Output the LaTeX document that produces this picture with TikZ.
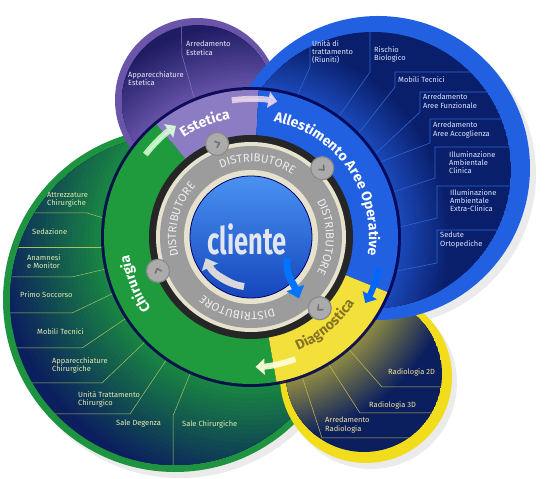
\documentclass[tikz,border=0pt]{standalone}
\usepackage{fontspec}
\setmainfont{Fira Sans}
\usepackage{tikz}
\usetikzlibrary{calc,positioning,arrows.meta,decorations.text}

\definecolor{navy}{HTML}{0B1F5E}
\definecolor{bandgreen}{HTML}{1F9A3C}
\definecolor{bandpurple}{HTML}{8C7CC4}
\definecolor{bandblue}{HTML}{2160E0}
\definecolor{bandyellow}{HTML}{F4E03A}
\definecolor{rimgreen}{HTML}{1E9440}
\definecolor{rimpurple}{HTML}{6A55A8}
\definecolor{rimblue}{HTML}{2260E2}
\definecolor{rimyellow}{HTML}{F2DD1C}
\definecolor{glowgreen}{HTML}{1A8E40}
\definecolor{glowpurple}{HTML}{6A56AC}
\definecolor{navypurple}{HTML}{1E1C62}
\definecolor{glowblue}{HTML}{1C4CC0}
\definecolor{navyblue}{HTML}{0A1F6B}
\definecolor{glowyellow}{HTML}{9A9440}
\definecolor{ringgray}{HTML}{9C9C9C}
\definecolor{ringcream}{HTML}{E6E2CE}
\definecolor{olive}{HTML}{857428}
\definecolor{gtext}{HTML}{E6ECB0}
\definecolor{btext}{HTML}{DCE6FF}
\definecolor{ptext}{HTML}{ECE8FA}
\definecolor{ytext}{HTML}{F2E49A}
\definecolor{gline}{HTML}{A8C060}
\definecolor{bline}{HTML}{2E64D0}
\definecolor{pline}{HTML}{8878C0}
\definecolor{yline}{HTML}{C8B850}
\definecolor{knobgray}{HTML}{ABABAB}
\definecolor{knobedge}{HTML}{8A8A8A}
\definecolor{disttext}{HTML}{EDEDED}
\definecolor{disktop}{HTML}{4A92F2}
\definecolor{diskbottom}{HTML}{1546BC}
\definecolor{clientetext}{HTML}{E2E6EE}

\newcommand{\bandfont}{\fontsize{14}{14}\selectfont\bfseries}
\newcommand{\distfont}{\fontsize{11.5}{12}\selectfont}
% glow from the ring outwards: light colour, dark colour, radius where it is dark
\newcommand{\glowfill}[3]{%
  \foreach \k in {0,...,24} {
    \pgfmathsetmacro\r{#3-(#3-148)*\k/24}
    \pgfmathtruncatemacro\p{4*\k}
    \fill[#1!\p!#2] (c) circle (\r pt);
  }}

\begin{document}
\begin{tikzpicture}[x=1pt,y=1pt]
\tikzstyle{lbl}=[inner sep=0pt, anchor=north west, align=left, font=\fontsize{7.5}{8.3}\selectfont]
\tikzstyle{glbl}=[lbl, text=gtext]
\tikzstyle{blbl}=[lbl, text=btext]
\tikzstyle{plbl}=[lbl, text=ptext]
\tikzstyle{ylbl}=[lbl, text=ytext]
\tikzstyle{gdiv}=[draw=gline, line width=0.5pt]
\tikzstyle{bdiv}=[draw=bline, line width=0.6pt]
\tikzstyle{pdiv}=[draw=pline, line width=0.5pt]
\tikzstyle{ydiv}=[draw=yline, line width=0.5pt]
\tikzstyle{dropfill}=[fill=black, opacity=0.08]
\tikzstyle{bandarrow}=[line width=6pt, -{Triangle[width=16pt,length=9pt]}]
\tikzstyle{knob}=[circle, fill=knobgray, draw=knobedge, line width=1.2pt, minimum size=23pt, inner sep=0pt]
\tikzstyle{knobmark}=[draw=black!55, line width=1.6pt, line cap=round, line join=round]
\tikzstyle{alongarc}=[decorate, decoration={text along path, text align=center}]

\useasboundingbox (0,0) rectangle (550,479);
\coordinate (c) at (251,242);
\coordinate (gc) at (175,179);
\coordinate (pc) at (197,379);
\coordinate (yc) at (366,102);
\coordinate (bc) at (378,311);

\fill[dropfill] ($(gc)+(5,-6)$) circle (172pt);
\fill[dropfill] ($(pc)+(4,-5)$) circle (82pt);
\fill[dropfill] ($(yc)+(5,-6)$) circle (86pt);
\fill[dropfill] ($(bc)+(6,-6)$) circle (152pt);

% chirurgia
\fill[rimgreen] (gc) circle (172pt);
\begin{scope}
\clip (gc) circle (165pt);
\fill[navy] (gc) circle (165pt);
\glowfill{glowgreen}{navy}{255}
\draw[gdiv] (0,266) -- (87,266) -- (110,259);
\draw[gdiv] (0,232) -- (113,232);
\draw[gdiv] (0,202) -- (72,202) -- (110,211);
\draw[gdiv] (0,166) -- (72,166) -- (118,188);
\draw[gdiv] (0,131) -- (82,131) -- (131,164);
\draw[gdiv] (0,96) -- (102,96) -- (149,141);
\draw[gdiv] (0,65) -- (130,65) -- (169,123);
\draw[gdiv] (173,0) -- (173,63) -- (192,110);
\end{scope}
\node[glbl] (g1) at (47,287) {Attrezzature\\Chirurgiche};
\node[glbl] (g2) at (32,251) {Sedazione};
\node[glbl] (g3) at (27,225) {Anamnesi\\e Monitor};
\node[glbl] (g4) at (20,188) {Primo Soccorso};
\node[glbl] (g5) at (37,151) {Mobili Tecnici};
\node[glbl] (g6) at (52,122) {Apparecchiature\\Chirurgiche};
\node[glbl] (g7) at (78,88) {Unità Trattamento\\Chirurgico};
\node[glbl] (g8) at (116,59) {Sale Degenza};
\node[glbl] (g9) at (182,59) {Sale Chirurgiche};

% estetica
\fill[rimpurple] (pc) circle (82pt);
\begin{scope}
\clip (198,378) circle (76pt);
\fill[navypurple] (198,378) circle (76pt);
\glowfill{glowpurple}{navypurple}{215}
\draw[pdiv] (181,470) -- (182,424) -- (197,371);
\end{scope}
\node[plbl] (p1) at (186,438) {Arredamento\\Estetica};
\node[plbl] (p2) at (128,408) {Apparecchiature\\Estetica};

% diagnostica
\fill[rimyellow] (yc) circle (86pt);
\begin{scope}
\clip (364,105) circle (78pt);
\fill[navy] (364,105) circle (78pt);
\glowfill{glowyellow}{navy}{210}
\draw[ydiv] (345,134) -- (382,92) -- (470,92);
\draw[ydiv] (322,125) -- (360,66) -- (470,66);
\draw[ydiv] (298,115) -- (322,41) -- (470,41);
\end{scope}
\node[ylbl] (y1) at (388,111) {Radiologia 2D};
\node[ylbl] (y2) at (369,78) {Radiologia 3D};
\node[ylbl] (y3) at (325,62) {Arredamento\\Radiologia};

% allestimento
\fill[rimblue] (bc) circle (152pt);
\begin{scope}
\clip (373,309) circle (138pt);
\fill[navyblue] (373,309) circle (138pt);
\glowfill{glowblue}{navyblue}{200}
\draw[bdiv] (310,470) -- (310,412) -- (293,374);
\draw[bdiv] (370,470) -- (370,407) -- (335,357);
\draw[bdiv] (520,407) -- (395,407) -- (395,392) -- (355,341);
\draw[bdiv] (520,387) -- (420,387) -- (420,367) -- (372,322);
\draw[bdiv] (520,360) -- (430,360) -- (430,336) -- (375,315);
\draw[bdiv] (520,332) -- (435,332) -- (435,301) -- (390,286);
\draw[bdiv] (520,293) -- (437,293) -- (437,261) -- (392,250);
\draw[bdiv] (520,249) -- (437,249) -- (437,216) -- (392,207);
\end{scope}
\node[blbl] (b1) at (312,439) {Unità di\\trattamento\\(Riuniti)};
\node[blbl] (b2) at (374,433) {Rischio\\Biologico};
\node[blbl] (b3) at (398,403) {Mobili Tecnici};
\node[blbl] (b4) at (423,385) {Arredamento\\Aree Funzionale};
\node[blbl] (b5) at (433,357) {Arredamento\\Aree Accoglienza};
\node[blbl] (b6) at (449,328) {Illuminazione\\Ambientale\\Clinica};
\node[blbl] (b7) at (450,290) {Illuminazione\\Ambientale\\Extra-Clinica};
\node[blbl] (b8) at (440,247) {Sedute\\Ortopediche};

\begin{scope}[shift={(c)}]
\fill[black!70!blue, opacity=0.85] (0,0) circle (150pt);
\fill[bandgreen] (0,0) -- (130:147pt) arc[start angle=130, end angle=280, radius=147pt] -- cycle;
\fill[bandpurple] (0,0) -- (87:147pt) arc[start angle=87, end angle=130, radius=147pt] -- cycle;
\fill[bandblue] (0,0) -- (-22:147pt) arc[start angle=-22, end angle=87, radius=147pt] -- cycle;
\fill[bandyellow] (0,0) -- (-80:147pt) arc[start angle=-80, end angle=-22, radius=147pt] -- cycle;

\draw[bandarrow, draw=green!15!white, fill=green!15!white, opacity=0.85] (142:134pt) arc[start angle=142, end angle=124, radius=134pt];
\draw[bandarrow, draw=violet!15!white, fill=violet!15!white, opacity=0.85] (98:138pt) arc[start angle=98, end angle=79, radius=138pt];
\draw[bandarrow, draw=blue!60!cyan, fill=blue!60!cyan] (-14:132pt) arc[start angle=-14, end angle=-30, radius=132pt];
\draw[bandarrow, draw=yellow!15!white, fill=yellow!15!white, opacity=0.9] (-70:130pt) arc[start angle=-70, end angle=-88, radius=130pt];

\path[alongarc, decoration={text={|\bandfont\color{white}|Estetica}}] (140:120pt) arc[start angle=140, end angle=84, radius=120pt];
\path[alongarc, decoration={text={|\bandfont\color{white}|Allestimento Aree Operative}}] (95:118pt) arc[start angle=95, end angle=-25, radius=118pt];
\path[alongarc, decoration={text={|\bandfont\color{white}|Chirurgia}}] (232:123pt) arc[start angle=232, end angle=172, radius=123pt];
\path[alongarc, decoration={text={|\bandfont\color{olive}|Diagnostica}}] (-80:123pt) arc[start angle=-80, end angle=-20, radius=123pt];

\fill[black!85] (0,0) circle (102pt);
\fill[ringcream] (0,0) circle (95pt);
\fill[ringgray] (0,0) circle (91pt);
\fill[ringcream] (0,0) circle (67pt);
\shade[top color=disktop, bottom color=diskbottom] (0,0) circle (61pt);
\draw[blue!40!black, line width=0.8pt] (0,0) circle (61pt);

\foreach \m in {85,0,259,166}
  \path[alongarc, decoration={text={|\distfont\color{disttext}|DISTRIBUTORE}}] (\m+50:75pt) arc[start angle=\m+50, end angle=\m-50, radius=75pt];

\foreach \a [count=\i] in {110,44,-46,200} {
  \node[knob] (k\i) at (\a:99pt) {};
  \draw[knobmark] ($(k\i)+(\a-90:2.5pt)+(\a+50:5pt)$) -- ($(k\i)+(\a-90:2.5pt)$) -- ($(k\i)+(\a-90:2.5pt)+(\a+130:5pt)$);
}

\draw[line width=7pt, draw=black!15, -{Triangle[width=17pt,length=10pt]}, fill=black!15] (262:50pt) arc[start angle=262, end angle=205, radius=50pt];
\draw[line width=7pt, draw=blue!55!cyan, -{Triangle[width=18pt,length=11pt]}, fill=blue!55!cyan] (-30:42pt) to[out=-100, in=110] (-52:78pt);

\node[font=\fontsize{38}{38}\selectfont\bfseries, text=clientetext, xscale=0.67] (cl) at (-4,-2) {cliente};
\end{scope}
\end{tikzpicture}
\end{document}
